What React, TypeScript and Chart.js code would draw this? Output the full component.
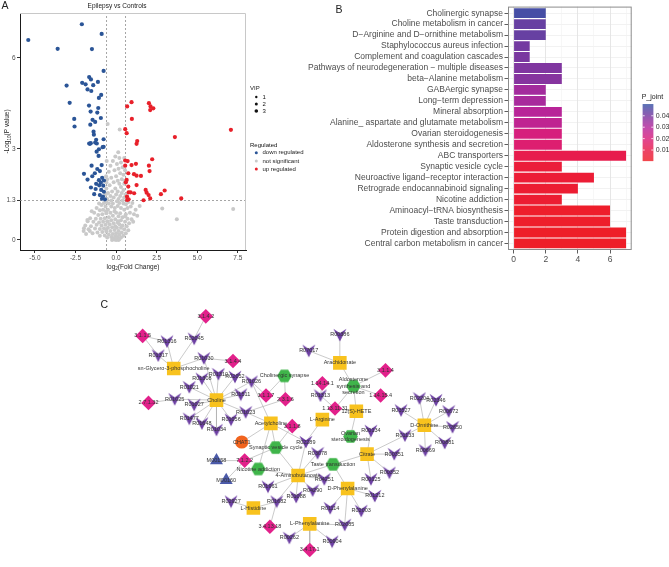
import React, { useEffect, useRef } from "react";
import { Chart, registerables } from "chart.js";
Chart.register(...registerables);

const FONT = "'Liberation Sans', Arial, Helvetica, sans-serif";

// ---------------- Panel A : volcano plot ----------------
const downRegulated: number[][] = [
  [-5.41, 6.59], [-2.11, 7.11], [-0.89, 6.79], [-3.6, 6.3], [-1.49, 6.29], [-0.77, 5.57],
  [-1.66, 5.37], [-1.55, 5.29], [-1.12, 5.21], [-2.09, 5.18], [-1.88, 5.13], [-1.41, 5.1],
  [-3.05, 5.09], [-1.76, 4.96], [-1.53, 4.91], [-0.92, 4.78], [-1.06, 4.68], [-2.86, 4.52],
  [-1.67, 4.43], [-1.1, 4.35], [-1.57, 4.23], [-1.16, 4.2], [-2.58, 3.99], [-0.94, 4.02],
  [-1.45, 3.96], [-1.29, 3.89], [-1.59, 3.8], [-2.56, 3.74], [-1.39, 3.57], [-1.37, 3.47],
  [-0.77, 3.32], [-1.23, 3.3], [-1.29, 3.21], [-1.56, 3.19], [-1.66, 3.18], [-1.19, 3.18],
  [-0.77, 3.07], [-1.06, 2.99], [-1.61, 3.17], [-0.83, 3.06], [-1.2, 2.91], [-1.08, 2.77],
  [-1.51, 2.45], [-0.89, 2.47], [-1.16, 2.34], [-1.0, 2.27], [-1.31, 2.2], [-1.98, 2.18],
  [-1.47, 2.1], [-0.86, 2.05], [-1.76, 1.99], [-1.06, 1.97], [-0.75, 1.96], [-0.94, 1.89],
  [-1.23, 1.85], [-1.04, 1.8], [-0.79, 1.79], [-1.55, 1.73], [-1.26, 1.68], [-0.92, 1.65],
  [-0.75, 1.59], [-1.35, 1.51], [-1.0, 1.48], [-0.81, 1.43], [-0.87, 1.36], [-0.69, 1.34],
];
const upRegulated: number[][] = [
  [0.95, 4.54], [0.68, 4.4], [2.02, 4.51], [2.12, 4.4], [2.29, 4.34], [2.1, 4.28],
  [0.97, 3.99], [0.56, 3.65], [0.65, 3.52], [7.07, 3.63], [3.62, 3.39], [1.3, 3.26],
  [1.26, 3.17], [2.22, 2.66], [0.56, 2.62], [0.71, 2.6], [0.95, 2.47], [1.22, 2.51],
  [2.02, 2.45], [0.56, 2.45], [2.06, 2.27], [0.75, 2.2], [1.1, 2.17], [1.26, 2.12],
  [1.53, 2.11], [0.65, 1.98], [0.6, 1.9], [1.26, 1.81], [0.75, 1.76], [2.99, 1.63],
  [1.82, 1.65], [2.76, 1.51], [1.88, 1.56], [0.77, 1.57], [0.89, 1.57], [1.11, 1.54],
  [2.0, 1.48], [0.67, 1.43], [2.1, 1.37], [4.01, 1.37], [1.69, 1.31], [0.68, 1.32], [0.77, 1.34],
];
const notSignificant: number[][] = [
  [-0.52, 3.82], [0.22, 3.64], [0.13, 2.89], [-0.05, 2.75], [0.2, 2.7], [0.3, 2.55], [-0.2, 2.6],
  [0.05, 2.5], [-0.35, 2.45], [0.4, 2.4], [0.15, 2.35], [-0.1, 2.3], [0.25, 2.2], [-0.45, 2.25],
  [0.45, 2.15], [0.0, 2.1], [-0.3, 2.05], [0.35, 2.0], [-0.55, 2.0], [0.1, 1.95], [-0.15, 1.9],
  [0.5, 1.85], [0.2, 1.85], [-0.4, 1.8], [0.3, 1.75], [-0.05, 1.7], [-0.6, 1.7], [0.45, 1.65],
  [0.1, 1.6], [-0.25, 1.6], [0.35, 1.55], [-0.5, 1.55], [0.0, 1.5], [0.25, 1.45], [-0.35, 1.45],
  [0.5, 1.4], [-0.15, 1.4], [0.15, 1.35], [-0.55, 1.35], [0.4, 1.3], [-0.3, 1.3], [0.05, 1.28],
  [-0.62, 2.1], [-0.6, 1.9], [-0.64, 1.5], [0.55, 2.3], [0.52, 1.95], [0.58, 1.5], [-0.58, 2.6],
  [0.5, 2.7], [-0.6, 1.25], [-0.45, 1.2], [-0.2, 1.2], [0.2, 1.22], [0.45, 1.2], [0.6, 1.18],
  [0.75, 1.25], [-0.75, 1.22], [-0.9, 1.15], [-1.05, 1.2], [0.9, 1.1], [1.0, 1.22], [-0.65, 1.1],
  [-0.3, 1.1], [0.1, 1.12], [0.3, 1.05], [0.5, 1.0], [0.7, 1.05], [-0.5, 1.0], [-0.8, 1.0],
  [-1.0, 0.98], [-1.2, 1.05], [1.2, 1.0], [1.45, 1.12], [-0.1, 0.95], [0.0, 0.9], [0.25, 0.88],
  [-0.35, 0.9], [-0.6, 0.88], [-0.85, 0.85], [-1.1, 0.82], [-1.35, 0.9], [-1.5, 0.95], [0.6, 0.85],
  [0.85, 0.9], [1.1, 0.85], [1.3, 0.8], [-0.2, 0.8], [0.15, 0.78], [0.4, 0.75], [-0.45, 0.75],
  [-0.7, 0.72], [-0.95, 0.7], [-1.25, 0.7], [-1.6, 0.72], [0.7, 0.7], [0.95, 0.68], [-0.05, 0.68],
  [0.3, 0.65], [-0.3, 0.65], [-0.55, 0.62], [-0.8, 0.6], [-1.05, 0.58], [-1.4, 0.6], [-1.75, 0.62],
  [0.55, 0.6], [0.8, 0.55], [1.05, 0.6], [0.1, 0.58], [-0.15, 0.55], [0.2, 0.52], [-0.4, 0.52],
  [-0.65, 0.5], [-0.9, 0.48], [-1.2, 0.5], [-1.55, 0.45], [-1.9, 0.48], [0.4, 0.48], [0.65, 0.45],
  [-0.05, 0.45], [0.05, 0.4], [-0.25, 0.42], [0.3, 0.4], [-0.5, 0.4], [-0.75, 0.38], [-1.0, 0.36],
  [-1.3, 0.38], [-1.7, 0.35], [-2.0, 0.3], [0.5, 0.35], [0.75, 0.32], [-0.1, 0.33], [0.15, 0.3],
  [-0.35, 0.3], [-0.6, 0.28], [-0.85, 0.26], [-1.15, 0.25], [-1.45, 0.22], [-1.85, 0.2],
  [0.35, 0.25], [0.6, 0.22], [0.0, 0.22], [-0.2, 0.2], [0.2, 0.18], [-0.45, 0.18], [-0.7, 0.15],
  [-1.0, 0.14], [0.45, 0.14], [-0.05, 0.12], [0.1, 0.1], [-0.3, 0.1], [0.3, 0.08], [-0.55, 0.08],
  [-0.15, 0.05], [0.05, 0.04], [0.2, 0.03], [-0.1, 0.02], [0.0, 0.0], [-0.25, 0.0], [0.15, 0.0],
  [-0.52, 0.6], [-0.62, 0.35], [-1.98, 0.39], [-1.77, 0.66], [-1.62, 0.3], [2.84, 1.04],
  [7.21, 1.02], [3.74, 0.68], [-0.62, 0.95], [0.56, 0.78], [-0.08, 1.05], [0.12, 0.62],
];
const volcanoXTicks = [-5, -2.5, 0, 2.5, 5, 7.5];
const volcanoYTicks = [0, 1.3, 3, 6];
const foldChangeCut = 0.585;
const pValueCut = 1.3;
const vipLevels = ["1", "2", "3"];
const regulatedLevels = ["down regulated", "not significant", "up regulated"];

// ---------------- Panel B : enrichment bars ----------------
const pathways = [
  "Cholinergic synapse",
  "Choline metabolism in cancer",
  "D\u2212Arginine and D\u2212ornithine metabolism",
  "Staphylococcus aureus infection",
  "Complement and coagulation cascades",
  "Pathways of neurodegeneration \u2212 multiple diseases",
  "beta\u2212Alanine metabolism",
  "GABAergic synapse",
  "Long\u2212term depression",
  "Mineral absorption",
  "Alanine_ aspartate and glutamate metabolism",
  "Ovarian steroidogenesis",
  "Aldosterone synthesis and secretion",
  "ABC transporters",
  "Synaptic vesicle cycle",
  "Neuroactive ligand\u2212receptor interaction",
  "Retrograde endocannabinoid signaling",
  "Nicotine addiction",
  "Aminoacyl\u2212tRNA biosynthesis",
  "Taste transduction",
  "Protein digestion and absorption",
  "Central carbon metabolism in cancer",
];
const pathwayCounts = [2, 2, 2, 1, 1, 3, 3, 2, 2, 3, 3, 3, 3, 7, 3, 5, 4, 3, 6, 6, 7, 7];
const pathwayPJoint = [
  0.048, 0.043, 0.043, 0.041, 0.04, 0.039, 0.038, 0.033, 0.032, 0.029, 0.027,
  0.021, 0.018, 0.011, 0.006, 0.005, 0.004, 0.004, 0.002, 0.002, 0.001, 0.001,
];
const countTicks = [0, 1, 2, 3, 4, 5, 6, 7];
const pJointTicks = [0.01, 0.02, 0.03, 0.04];
const pJointRange = [0.0004, 0.0503];

// ---------------- Panel C : network ----------------
const metaboliteNodes: [string, string, number, number][] = [
  ["m1", "sn-Glycero-3-phosphocholine", 169, 364],
  ["m2", "Choline", 213, 398],
  ["m3", "Acetylcholine", 269, 423],
  ["m4", "L-Arginine", 322, 419],
  ["m5", "Arachidonate", 340, 358],
  ["m6", "12(S)-HETE", 357, 410],
  ["m7", "D-Ornithine", 427, 425],
  ["m8", "Citrate", 368, 456],
  ["m9", "4-Aminobutanoate", 297, 479],
  ["m10", "D-Phenylalanine", 348, 493],
  ["m11", "L-Histidine", 251, 514],
  ["m12", "L-Phenylalanine", 309, 531],
];
const pathwayNodes: [string, string, number, number][] = [
  ["p1", "Cholinergic synapse", 283, 372],
  ["p2", "Aldosterone\nsynthesis and\nsecretion", 354, 383],
  ["p3", "Synaptic vesicle cycle", 274, 449],
  ["p4", "Nicotine addiction", 256, 472],
  ["p5", "Taste transduction", 333, 467],
  ["p6", "Ovarian\nsteroidogenesis", 351, 437],
];
const geneNodes: [string, string, number, number][] = [["g1", "CHAT1", 239, 443]];
const moduleNodes: [string, string, number, number][] = [
  ["t1", "M00158", 213, 463],
  ["t2", "M00160", 223, 484],
];
const enzymeNodes: [string, string, number, number][] = [
  ["e1", "3.1.1.5", 137, 329], ["e2", "3.1.4.2", 202, 308], ["e3", "3.1.4.4", 230, 356],
  ["e4", "2.7.1.32", 143, 401], ["e5", "3.1.1.7", 264, 393], ["e6", "2.3.1.6", 284, 397],
  ["e7", "3.1.1.8", 291, 426], ["e8", "7.1.2.2", 242, 463], ["e9", "1.14.14.1", 322, 380],
  ["e10", "1.13.11.31", 335, 407], ["e11", "3.1.1.4", 387, 366], ["e12", "1.14.15.4", 382, 393],
  ["e13", "3.4.13.18", 268, 534], ["e14", "3.4.17.1", 309, 559],
];
const reactionNodes: [string, string, number, number][] = [
  ["r1", "R01316", 162, 335], ["r2", "R02045", 190, 332], ["r3", "R01317", 153, 350],
  ["r4", "R01030", 200, 353], ["r5", "R01308", 198, 375], ["r6", "R01310", 215, 370],
  ["r7", "R02052", 232, 373], ["r8", "R01026", 249, 378], ["r9", "R01021", 185, 384],
  ["r10", "R01511", 238, 392], ["r11", "R01025", 170, 397], ["r12", "R01027", 190, 403],
  ["r13", "R01023", 243, 411], ["r14", "R01477", 185, 418], ["r15", "R01648", 198, 423],
  ["r16", "R01034", 213, 430], ["r17", "R01056", 228, 419], ["r18", "R00386", 340, 328],
  ["r19", "R07017", 308, 345], ["r20", "R01313", 320, 393], ["r21", "R02289", 305, 443],
  ["r22", "R03078", 317, 455], ["r23", "R04251", 324, 483], ["r24", "R01961", 266, 491],
  ["r25", "R04290", 312, 495], ["r26", "R01088", 295, 502], ["r27", "R02927", 228, 507],
  ["r28", "R01682", 275, 507], ["r29", "R01114", 330, 514], ["r30", "R00262", 288, 546],
  ["r31", "R00904", 332, 550], ["r32", "R00134", 372, 431], ["r33", "R01133", 407, 436],
  ["r34", "R00351", 396, 456], ["r35", "R00352", 391, 476], ["r36", "R00125", 372, 483],
  ["r37", "R01212", 376, 501], ["r38", "R02003", 362, 517], ["r39", "R02085", 345, 532],
  ["r40", "R02204", 422, 396], ["r41", "R02346", 439, 398], ["r42", "R03527", 403, 409],
  ["r43", "R00672", 452, 410], ["r44", "R02650", 456, 427], ["r45", "R00881", 448, 444],
  ["r46", "R00669", 428, 452],
];
const networkEdges: [string, string][] = [
  ["m1", "r1"], ["m1", "r2"], ["m1", "r3"], ["m1", "r4"], ["e1", "r1"], ["e1", "r3"],
  ["e2", "r2"], ["e3", "r4"], ["r4", "m2"],
  ["m2", "r5"], ["m2", "r6"], ["m2", "r7"], ["m2", "r8"], ["m2", "r9"], ["m2", "r10"],
  ["m2", "r11"], ["m2", "r12"], ["m2", "r13"], ["m2", "r14"], ["m2", "r15"], ["m2", "r16"],
  ["m2", "r17"], ["e4", "r11"], ["r8", "m3"], ["r8", "e5"], ["p1", "e5"], ["p1", "e6"],
  ["r13", "m3"], ["r13", "e6"], ["m3", "g1"], ["m3", "p3"], ["m3", "p4"], ["m3", "r21"],
  ["e7", "p3"], ["p3", "m9"], ["p3", "e8"], ["e8", "t1"], ["e8", "t2"], ["p4", "m9"],
  ["m9", "r21"], ["m9", "r22"], ["m9", "p5"], ["m9", "r23"], ["m9", "r25"], ["m9", "r26"],
  ["m9", "r24"], ["m9", "r28"], ["m11", "r27"], ["m11", "r28"], ["r28", "e13"], ["m4", "r21"],
  ["m12", "r30"], ["m12", "r31"], ["m12", "e14"], ["m12", "r39"], ["p5", "m8"], ["p5", "m10"],
  ["m8", "r32"], ["m8", "r33"], ["m8", "r34"], ["m8", "r35"], ["m8", "r36"], ["r33", "m7"],
  ["m7", "r40"], ["m7", "r41"], ["m7", "r42"], ["m7", "r43"], ["m7", "r44"], ["m7", "r45"],
  ["m7", "r46"], ["m10", "r37"], ["m10", "r38"], ["m10", "r39"], ["m10", "r29"],
  ["m5", "r18"], ["m5", "p2"], ["m5", "r19"], ["p2", "e11"], ["p2", "e12"], ["p2", "m6"],
  ["p2", "e10"], ["m6", "e10"], ["m6", "p6"], ["e9", "r20"], ["r20", "e10"],
];

// ---------------- helpers ----------------
const pStops: [number, number[]][] = [
  [0, [239, 30, 36]], [0.01, [232, 28, 72]], [0.02, [218, 30, 122]],
  [0.03, [180, 38, 155]], [0.04, [122, 56, 160]], [0.05, [57, 84, 166]],
];
function pColor(p: number): string {
  const v = Math.max(0, Math.min(0.05, p));
  for (let i = 0; i < pStops.length - 1; i++) {
    const [a, ca] = pStops[i];
    const [b, cb] = pStops[i + 1];
    if (v >= a && v <= b) {
      const t = (v - a) / (b - a);
      const c = ca.map((x, k) => Math.round(x + (cb[k] - x) * t));
      return `rgb(${c[0]},${c[1]},${c[2]})`;
    }
  }
  return "rgb(57,84,166)";
}

function drawRich(ctx: CanvasRenderingContext2D, parts: [string, boolean][], x: number, y: number, size: number) {
  const widths = parts.map(([t, sub]) => {
    ctx.font = `${sub ? size * 0.72 : size}px ${FONT}`;
    return ctx.measureText(t).width;
  });
  const total = widths.reduce((a, b) => a + b, 0);
  let cx = x - total / 2;
  ctx.textAlign = "left";
  ctx.textBaseline = "middle";
  parts.forEach(([t, sub], i) => {
    ctx.font = `${sub ? size * 0.72 : size}px ${FONT}`;
    ctx.fillText(t, cx, sub ? y + size * 0.3 : y);
    cx += widths[i];
  });
}

function makeChevron(color: string): HTMLCanvasElement {
  const c = document.createElement("canvas");
  c.width = 14; c.height = 14;
  const g = c.getContext("2d")!;
  g.fillStyle = color;
  g.beginPath();
  g.moveTo(0.5, 0.8);
  g.lineTo(7, 5.2);
  g.lineTo(13.5, 0.8);
  g.lineTo(7, 13.6);
  g.closePath();
  g.fill();
  return c;
}
function makeHexagon(color: string): HTMLCanvasElement {
  const c = document.createElement("canvas");
  c.width = 15; c.height = 15;
  const g = c.getContext("2d")!;
  g.fillStyle = color;
  g.beginPath();
  for (let k = 0; k < 6; k++) {
    const ang = (Math.PI / 3) * k;
    const px = 7.5 + 7.3 * Math.cos(ang);
    const py = 7.5 + 7.3 * Math.sin(ang);
    if (k === 0) g.moveTo(px, py); else g.lineTo(px, py);
  }
  g.closePath();
  g.fill();
  return c;
}

// ---------------- chart configs ----------------
function volcanoConfig(): any {
  const yMin = -0.33, yMax = 7.48, xMin = -5.92, xMax = 8.0;
  const toPts = (arr: number[][]) => arr.map(([x, y]) => ({ x, y }));
  const guide = (data: any[]) => ({
    type: "line", data, borderColor: "#8f8f8f", borderWidth: 0.8, borderDash: [2, 2],
    pointRadius: 0, fill: false, order: 10,
  });
  const decor = {
    id: "volcanoDecor",
    afterDraw(chart: any) {
      const { ctx, chartArea: a } = chart;
      ctx.save();
      ctx.strokeStyle = "#c8c8c8";
      ctx.lineWidth = 1;
      ctx.beginPath();
      ctx.moveTo(a.left, a.top + 0.5);
      ctx.lineTo(a.right - 0.5, a.top + 0.5);
      ctx.lineTo(a.right - 0.5, a.bottom);
      ctx.stroke();
      ctx.fillStyle = "#222";
      ctx.font = `10.5px ${FONT}`;
      ctx.textAlign = "left";
      ctx.textBaseline = "alphabetic";
      ctx.fillText("A", 1.5, 8.8);
      ctx.font = `6.5px ${FONT}`;
      ctx.textAlign = "center";
      ctx.textBaseline = "middle";
      ctx.fillText("Epilepsy vs Controls", 117, 6.5);
      drawRich(ctx, [["log", false], ["2", true], ["(Fold Change)", false]], (a.left + a.right) / 2, 267, 6.5);
      ctx.save();
      ctx.translate(7.5, (a.top + a.bottom) / 2);
      ctx.rotate(-Math.PI / 2);
      drawRich(ctx, [["-Log", false], ["10", true], ["(P value)", false]], 0, 0, 6.5);
      ctx.restore();
      // legend
      ctx.fillStyle = "#222";
      ctx.font = `6px ${FONT}`;
      ctx.textAlign = "left";
      ctx.textBaseline = "middle";
      ctx.fillText("VIP", 250, 88.5);
      const vipY = [97, 104, 111];
      vipLevels.forEach((lab, i) => {
        ctx.fillStyle = "#111";
        ctx.beginPath();
        ctx.arc(256.3, vipY[i], 1.2 + i * 0.3, 0, Math.PI * 2);
        ctx.fill();
        ctx.fillText(lab, 262.5, vipY[i]);
      });
      ctx.fillText("Regulated", 250, 145);
      const regY = [152.7, 161, 169];
      const regC = ["#2b5597", "#c9c9c9", "#e8202a"];
      regulatedLevels.forEach((lab, i) => {
        ctx.fillStyle = regC[i];
        ctx.beginPath();
        ctx.arc(256.3, regY[i], 1.5, 0, Math.PI * 2);
        ctx.fill();
        ctx.fillStyle = "#222";
        ctx.fillText(lab, 262.5, regY[i]);
      });
      ctx.restore();
    },
  };
  return {
    type: "scatter",
    data: {
      datasets: [
        { data: toPts(notSignificant), backgroundColor: "#c9c9c9", pointRadius: 2, borderWidth: 0, order: 5 },
        { data: toPts(downRegulated), backgroundColor: "#2b5597", pointRadius: 2.1, borderWidth: 0, order: 2 },
        { data: toPts(upRegulated), backgroundColor: "#e8202a", pointRadius: 2.1, borderWidth: 0, order: 1 },
        guide([{ x: -foldChangeCut, y: yMin }, { x: -foldChangeCut, y: yMax }]),
        guide([{ x: foldChangeCut, y: yMin }, { x: foldChangeCut, y: yMax }]),
        guide([{ x: xMin, y: pValueCut }, { x: xMax, y: pValueCut }]),
      ],
    },
    options: {
      responsive: false, animation: false, devicePixelRatio: 1,
      layout: { padding: { left: 0, top: 13, right: 94, bottom: 0 } },
      plugins: { legend: { display: false }, tooltip: { enabled: false } },
      scales: {
        x: {
          type: "linear", min: xMin, max: xMax,
          afterFit: (s: any) => { s.height = 22; },
          afterBuildTicks: (s: any) => { s.ticks = volcanoXTicks.map((v) => ({ value: v })); },
          ticks: { callback: (v: any) => Number(v).toFixed(1), font: { size: 6.5, family: FONT }, color: "#4d4d4d", padding: 1, maxRotation: 0, autoSkip: false },
          grid: { display: true, drawOnChartArea: false, drawTicks: true, tickLength: 3, color: "#333" },
          border: { display: true, color: "#1a1a1a", width: 1 },
        },
        y: {
          type: "linear", min: yMin, max: yMax,
          afterFit: (s: any) => { s.width = 20; },
          afterBuildTicks: (s: any) => { s.ticks = volcanoYTicks.map((v) => ({ value: v })); },
          ticks: { callback: (v: any) => String(v), font: { size: 6.5, family: FONT }, color: "#4d4d4d", padding: 1.5, autoSkip: false },
          grid: { display: true, drawOnChartArea: false, drawTicks: true, tickLength: 3, color: "#333" },
          border: { display: true, color: "#1a1a1a", width: 1 },
        },
      },
    },
    plugins: [decor],
  };
}

function barConfig(): any {
  const decor = {
    id: "barDecor",
    afterDatasetsDraw(chart: any) {
      const { ctx, chartArea: a } = chart;
      ctx.save();
      ctx.strokeStyle = "#8c8c8c";
      ctx.lineWidth = 1;
      ctx.strokeRect(a.left + 0.5, a.top + 0.5, a.right - a.left - 1, a.bottom - a.top - 1);
      ctx.restore();
    },
    afterDraw(chart: any) {
      const { ctx } = chart;
      ctx.save();
      ctx.fillStyle = "#222";
      ctx.font = `10.5px ${FONT}`;
      ctx.textAlign = "left";
      ctx.textBaseline = "alphabetic";
      ctx.fillText("B", 85.5, 13.3);
      // colour bar legend
      const x0 = 392.7, w = 10.6, yTop = 104, yBot = 161;
      const [lo, hi] = pJointRange;
      const yFor = (p: number) => yBot - ((p - lo) / (hi - lo)) * (yBot - yTop);
      for (let y = yTop; y < yBot; y += 0.5) {
        const p = lo + ((yBot - y) / (yBot - yTop)) * (hi - lo);
        ctx.fillStyle = pColor(p);
        ctx.fillRect(x0, y, w, 0.6);
      }
      ctx.strokeStyle = "#fff";
      ctx.lineWidth = 0.8;
      ctx.font = `7px ${FONT}`;
      ctx.textBaseline = "middle";
      pJointTicks.forEach((p) => {
        const y = yFor(p);
        ctx.beginPath();
        ctx.moveTo(x0, y); ctx.lineTo(x0 + 2, y);
        ctx.moveTo(x0 + w - 2, y); ctx.lineTo(x0 + w, y);
        ctx.stroke();
        ctx.fillStyle = "#333";
        ctx.fillText(String(p), x0 + w + 2.5, y);
      });
      ctx.fillStyle = "#222";
      ctx.font = `7px ${FONT}`;
      ctx.fillText("P_joint", x0 - 1, 97.5);
      ctx.restore();
    },
  };
  return {
    type: "bar",
    data: {
      datasets: [{
        data: pathwayCounts.map((v, i) => ({ x: v, y: i })),
        backgroundColor: pathwayPJoint.map(pColor),
        borderWidth: 0,
        barPercentage: 0.9,
        categoryPercentage: 1.0,
      }],
    },
    options: {
      indexAxis: "y",
      responsive: false, animation: false, devicePixelRatio: 1,
      layout: { padding: { left: 0, top: 5.7, right: 37.3, bottom: 0 } },
      plugins: { legend: { display: false }, tooltip: { enabled: false } },
      scales: {
        y: {
          type: "linear", min: -0.6, max: pathways.length - 0.4, reverse: true, offset: false,
          afterFit: (s: any) => { s.width = 258; },
          afterBuildTicks: (s: any) => { s.ticks = pathways.map((_, i) => ({ value: i })); },
          ticks: { callback: (v: any) => pathways[v], font: { size: 8.5, family: FONT }, color: "#4d4d4d", padding: 1.5, autoSkip: false },
          grid: { offset: false, color: "#ececec", lineWidth: 0.7, drawTicks: true, tickLength: 3.5, tickColor: "#333", tickWidth: 0.8 },
          border: { display: false },
        },
        x: {
          type: "linear", min: -0.35, max: 7.35, offset: false,
          afterFit: (s: any) => { s.height = 40; },
          afterBuildTicks: (s: any) => { s.ticks = countTicks.map((v) => ({ value: v })); },
          ticks: { callback: (v: any) => (v % 2 === 0 ? String(v) : ""), font: { size: 8.5, family: FONT }, color: "#4d4d4d", padding: 1, maxRotation: 0, autoSkip: false },
          grid: {
            offset: false,
            color: (c: any) => (c.tick && c.tick.value % 2 === 0 ? "#e3e3e3" : "#f1f1f1"),
            lineWidth: (c: any) => (c.tick && c.tick.value % 2 === 0 ? 0.9 : 0.6),
            tickColor: (c: any) => (c.tick && c.tick.value % 2 === 0 ? "#333" : "rgba(0,0,0,0)"),
            drawTicks: true, tickLength: 3.5, tickWidth: 0.8,
          },
          border: { display: false },
        },
      },
    },
    plugins: [decor],
  };
}

function networkConfig(): any {
  const all = [
    ...metaboliteNodes, ...pathwayNodes, ...geneNodes, ...moduleNodes, ...enzymeNodes, ...reactionNodes,
  ];
  const pos: Record<string, { x: number; y: number }> = {};
  all.forEach(([id, , x, y]) => { pos[id] = { x, y }; });
  const edgeData: any[] = [];
  networkEdges.forEach(([a, b]) => {
    edgeData.push({ x: pos[a].x, y: pos[a].y }, { x: pos[b].x, y: pos[b].y }, { x: pos[b].x, y: null });
  });
  const pts = (arr: [string, string, number, number][]) => arr.map(([id, label, x, y]) => ({ x, y, label }));
  const chevron = makeChevron("#6c3fa2");
  const hexagon = makeHexagon("#3fb54a");
  const labels = {
    id: "nodeLabels",
    afterDatasetsDraw(chart: any) {
      const { ctx, scales } = chart;
      ctx.save();
      ctx.fillStyle = "#333";
      ctx.font = `5.5px ${FONT}`;
      ctx.textAlign = "center";
      ctx.textBaseline = "middle";
      all.forEach(([, label, x, y]) => {
        const px = scales.x.getPixelForValue(x);
        const py = scales.y.getPixelForValue(y);
        const lines = label.split("\n");
        lines.forEach((ln, i) => ctx.fillText(ln, px, py + (i - (lines.length - 1) / 2) * 6.3));
      });
      ctx.fillStyle = "#222";
      ctx.font = `10.5px ${FONT}`;
      ctx.textAlign = "left";
      ctx.textBaseline = "alphabetic";
      ctx.fillText("C", 100.5, 18.3);
      ctx.restore();
    },
  };
  return {
    type: "scatter",
    data: {
      datasets: [
        { type: "line", data: edgeData, borderColor: "#b3b3b3", borderWidth: 0.7, pointRadius: 0, spanGaps: false, fill: false, order: 10 },
        { data: pts(reactionNodes), pointStyle: chevron, pointRadius: 7, order: 4 },
        { data: pts(enzymeNodes), pointStyle: "rectRot", pointRadius: 7.3, backgroundColor: "#e2218b", borderWidth: 0, order: 3 },
        { data: pts(metaboliteNodes), pointStyle: "rect", pointRadius: 9.6, backgroundColor: "#f8c21e", borderWidth: 0, order: 2 },
        { data: pts(pathwayNodes), pointStyle: hexagon, pointRadius: 7, order: 2 },
        { data: pts(geneNodes), pointStyle: "circle", pointRadius: 6.6, backgroundColor: "#f1641f", borderWidth: 0, order: 2 },
        { data: pts(moduleNodes), pointStyle: "triangle", pointRadius: 7.5, backgroundColor: "#4b5aa9", borderWidth: 0, order: 2 },
      ],
    },
    options: {
      responsive: false, animation: false, devicePixelRatio: 1,
      layout: { padding: 0 },
      plugins: { legend: { display: false }, tooltip: { enabled: false } },
      scales: {
        x: { type: "linear", min: 0, max: 669, display: false },
        y: { type: "linear", min: 290, max: 567, reverse: true, display: false },
      },
    },
    plugins: [labels],
  };
}

export default function App() {
  const aRef = useRef<HTMLCanvasElement>(null);
  const bRef = useRef<HTMLCanvasElement>(null);
  const cRef = useRef<HTMLCanvasElement>(null);
  useEffect(() => {
    const charts: Chart[] = [];
    if (aRef.current) charts.push(new Chart(aRef.current, volcanoConfig()));
    if (bRef.current) charts.push(new Chart(bRef.current, barConfig()));
    if (cRef.current) charts.push(new Chart(cRef.current, networkConfig()));
    return () => charts.forEach((c) => c.destroy());
  }, []);
  return (
    <div style={{ position: "absolute", left: 0, top: 0, width: 669, height: 567, background: "#fff", overflow: "hidden" }}>
      <canvas ref={aRef} width={340} height={272} style={{ position: "absolute", left: 0, top: 0 }} />
      <canvas ref={bRef} width={419} height={290} style={{ position: "absolute", left: 250, top: 0 }} />
      <canvas ref={cRef} width={669} height={277} style={{ position: "absolute", left: 0, top: 290 }} />
    </div>
  );
}
